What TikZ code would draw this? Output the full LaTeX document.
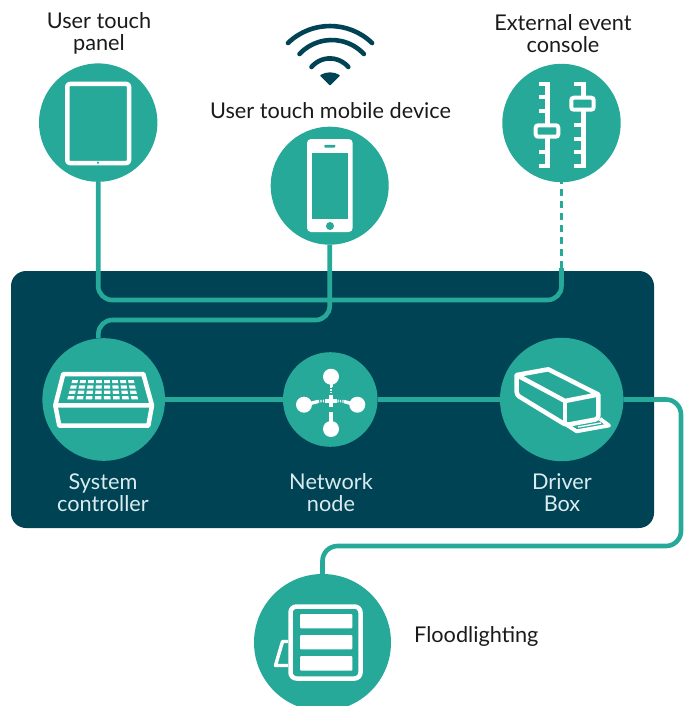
\documentclass[tikz,border=0pt]{standalone}
\usepackage{fontspec}
\setmainfont{Lato}
\definecolor{teal1}{HTML}{27A999}
\definecolor{navy1}{HTML}{004355}
\definecolor{ink1}{HTML}{1A1A1A}
\definecolor{pale1}{HTML}{D9ECEE}
\tikzset{
  disc/.style={circle,fill=teal1,draw=none,inner sep=0pt,outer sep=0pt},
  link/.style={draw=teal1,line width=4.6pt},
  lab/.style={align=center,text=ink1,inner sep=0pt,font=\fontsize{21.7}{22.5}\selectfont},
  labin/.style={lab,text=pale1},
  glyph/.style={draw=white,line width=4.5pt,line join=round},
  wave/.style={draw=navy1,line width=4.6pt,line cap=round},
  tick1/.style={draw=white,line width=4pt},
  handle1/.style={draw=white,fill=teal1,line width=4pt,rounded corners=2.5pt},
}
\begin{document}
\begin{tikzpicture}[x=1pt,y=-1pt]
\useasboundingbox (0,0) rectangle (683,706);
% panel
\fill[navy1,rounded corners=15pt] (11,271) rectangle (654,528);
% discs
\node[disc,minimum size=118.4pt] (panel) at (98.2,122.6) {};
\node[disc,minimum size=118pt] (mobile) at (329.7,185.7) {};
\node[disc,minimum size=118.4pt] (console) at (561.5,123) {};
\node[disc,minimum size=122.6pt] (sys) at (103.7,399.5) {};
\node[disc,minimum size=94.6pt] (net) at (330.3,399.5) {};
\node[disc,minimum size=123.4pt] (drv) at (561.7,399.5) {};
\node[disc,minimum size=137pt] (flood) at (322.5,642.5) {};
% corner coordinates
\coordinate (c1) at (561.5,300);
\coordinate (c2) at (561.5,268);
\coordinate (c3) at (200,320);
\coordinate (d2) at (681,546);
% connectors
\draw[link,rounded corners=14pt] (panel.south) |- (c1) -- (c2);
\draw[link,line width=2.4pt,dash pattern=on 7pt off 5pt] (c2) -- (console.south);
\draw[link,rounded corners=14pt] (mobile.south) |- (c3) -| (sys.95);
\draw[link] (sys.east) -- (net.west);
\draw[link] (net.east) -- (drv.west);
\draw[link,rounded corners=15pt] (drv.east) -| (d2) -| (flood.north);
% labels
\node[lab] (tpanel) at (99,33.5) {User touch\\panel};
\node[lab] (tmobile) at (330.5,111) {User touch mobile device};
\node[lab] (tconsole) at (563,33.5) {External event\\console};
\node[labin] (tsys) at (103,492.5) {System\\controller};
\node[labin] (tnet) at (331,492.5) {Network\\node};
\node[labin] (tdrv) at (562,492.5) {Driver\\Box};
\node[lab,anchor=west] (tflood) at (414,636.5) {Floodlighting};
% tablet
\draw[glyph,rounded corners=2.5pt] (67.3,84) rectangle (129,163);
\fill[teal1] (98,162.6) circle[radius=1.2pt];
% wifi
\draw[wave] (288,43) arc[start angle=134,end angle=46,radius=60.5pt];
\draw[wave] (299.5,54) arc[start angle=137,end angle=43,radius=44pt];
\draw[wave] (311.5,67) arc[start angle=140,end angle=40,radius=24pt];
\draw[navy1,fill=navy1,line width=1.5pt,line join=round] (330,84.5) -- (321,75.5) arc[start angle=120,end angle=60,radius=18pt] -- cycle;
% phone
\fill[white,rounded corners=4pt] (307,139) rectangle (352.7,232);
\fill[teal1] (312.3,153) rectangle (347.7,218.7);
\fill[teal1,rounded corners=1pt] (324.3,144.8) rectangle (335.3,147.6);
\fill[teal1] (330,226) circle[radius=4pt];
% console
\fill[white] (545,82.3) rectangle (550,167.7);
\foreach \yy in {84,97,111,152,165.7} \draw[tick1] (539,\yy) -- (546,\yy);
\draw[handle1] (535.7,125.3) rectangle (558.3,136.7);
\fill[white] (580.7,82.3) rectangle (585.7,167.7);
\foreach \yy in {84,125,139,152,165.7} \draw[tick1] (574,\yy) -- (581,\yy);
\draw[handle1] (571.3,97.7) rectangle (593.7,109.7);
% keyboard
\draw[glyph] (63.3,374) -- (143.3,374) -- (152,405.3) -- (55.3,405.3) -- cycle;
\draw[glyph] (55.3,405.3) -- (59.3,425.7) -- (148.3,425.7) -- (152,405.3);
\foreach \r in {0,1,2,3} \foreach \c in {0,...,7} {
  \pgfmathsetmacro{\ya}{380+\r*5.35}
  \pgfmathsetmacro{\yb}{\ya+3.2}
  \pgfmathsetmacro{\lefta}{72.3-(\ya-380)*0.26}
  \pgfmathsetmacro{\leftb}{72.3-(\yb-380)*0.26}
  \pgfmathsetmacro{\widea}{(136+(\ya-380)*0.24-\lefta)/8}
  \pgfmathsetmacro{\wideb}{(136+(\yb-380)*0.24-\leftb)/8}
  \fill[white] ({\lefta+\c*\widea},\ya) -- ({\lefta+(\c+0.72)*\widea},\ya) -- ({\leftb+(\c+0.72)*\wideb},\yb) -- ({\leftb+\c*\wideb},\yb) -- cycle;
}
% network node icon
\fill[white] (331,376.7) circle[radius=8pt];
\fill[white] (331,429) circle[radius=8pt];
\fill[white] (304,404.7) circle[radius=8pt];
\fill[white] (357.3,404.7) circle[radius=8pt];
\fill[white] (325.2,399) rectangle (336.8,403);
\fill[white] (329,395) rectangle (333,407);
\draw[white,line width=3.6pt] (331,412) -- (331,424);
\draw[white,line width=3pt] (331,384) -- (331,387);
\draw[white,line width=3.4pt] (310,403.5) -- (318,401.5);
\draw[white,line width=3.4pt] (344,401.5) -- (351,403.5);
\draw[white,line width=2.6pt,dash pattern=on 1.2pt off 1.2pt] (331,387) -- (331,393);
\draw[white,line width=2.6pt,dash pattern=on 1.2pt off 1.2pt] (318,401.3) -- (324.5,401);
\draw[white,line width=2.6pt,dash pattern=on 1.2pt off 1.2pt] (337.5,401) -- (344,401.3);
% driver box
\draw[glyph] (516.7,375) -- (548.3,369.3) -- (598.3,394.5) -- (565,401) -- cycle;
\draw[glyph,rounded corners=3pt] (516.7,375) -- (516.7,395) -- (566,425) -- (598.3,419) -- (598.3,394.5);
\draw[glyph] (565,401) -- (565,424);
\draw[draw=white,line width=3.8pt,line join=round] (566.7,425) -- (576.7,431.3) -- (609,425.5) -- (600,418.8);
\draw[white,line width=1.4pt] (578,427) -- (601,423);
% floodlight
\draw[glyph,rounded corners=6pt] (290.5,606.5) rectangle (360.5,678.5);
\fill[white,rounded corners=1pt] (300,614) rectangle (352.3,628.3);
\fill[white,rounded corners=1pt] (300,635) rectangle (352.3,649.3);
\fill[white,rounded corners=1pt] (300,656) rectangle (352.3,670.7);
\draw[white,line width=3.4pt,line join=round] (288,641.5) -- (282.5,641.5) -- (275.5,665.5) -- (288,665.5);
\end{tikzpicture}
\end{document}
